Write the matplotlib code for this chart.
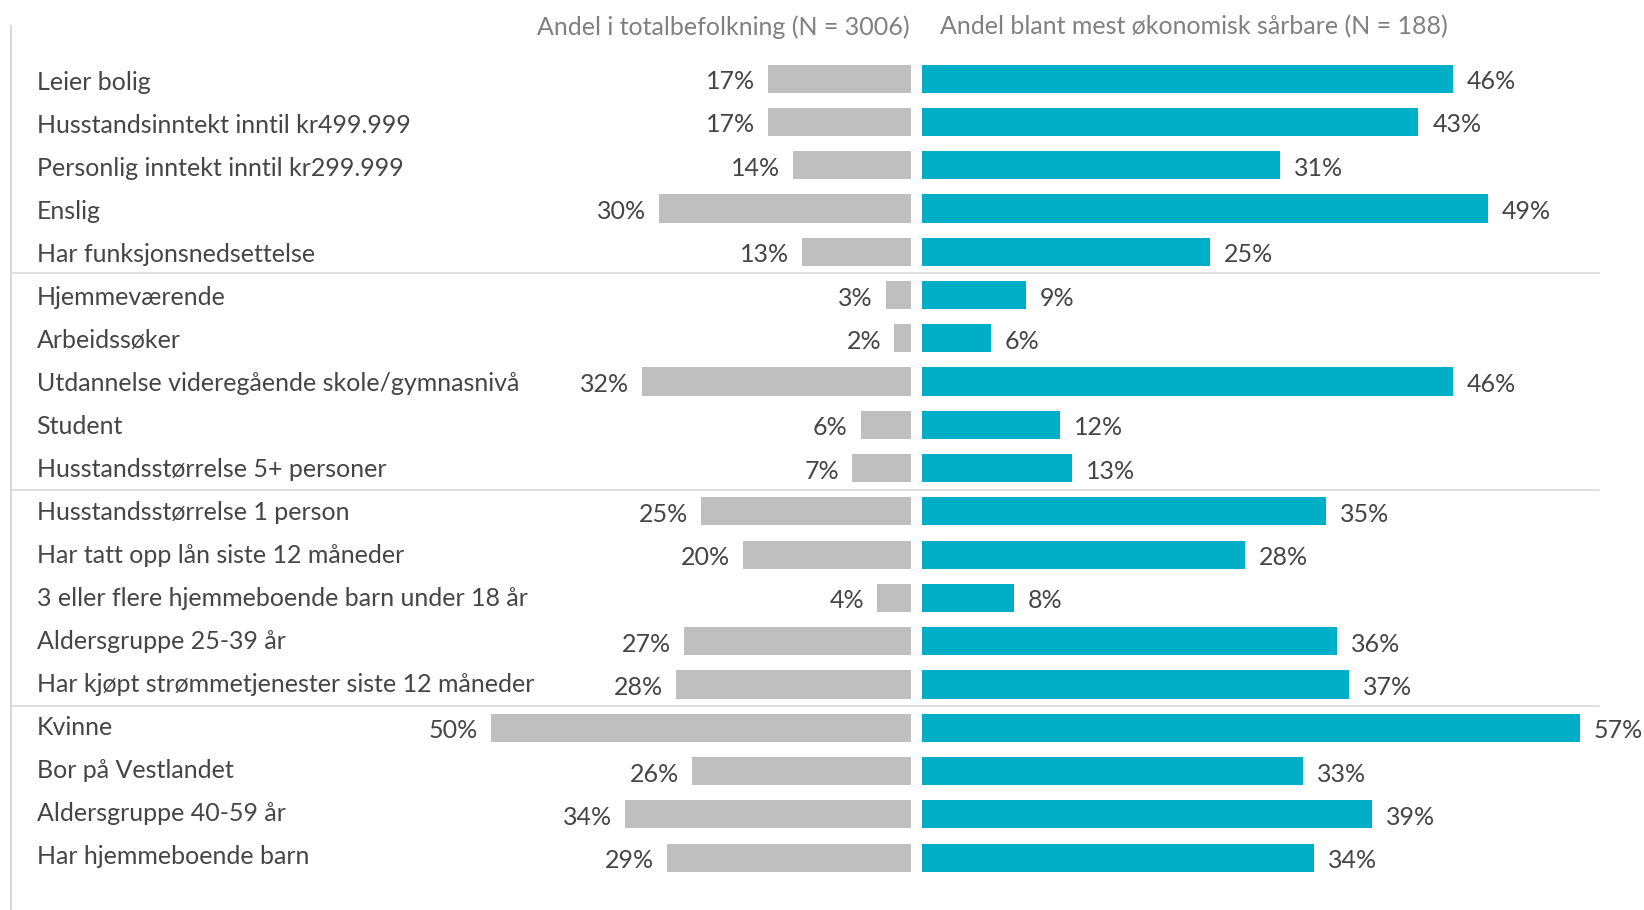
import numpy as np
import matplotlib.pyplot as plt
from matplotlib.lines import Line2D

plt.rcParams['font.family'] = ['Lato', 'DejaVu Sans']

# Données
categories = [
    "Leier bolig",
    "Husstandsinntekt inntil kr499.999",
    "Personlig inntekt inntil kr299.999",
    "Enslig",
    "Har funksjonsnedsettelse",
    "Hjemmeværende",
    "Arbeidssøker",
    "Utdannelse videregående skole/gymnasnivå",
    "Student",
    "Husstandsstørrelse 5+ personer",
    "Husstandsstørrelse 1 person",
    "Har tatt opp lån siste 12 måneder",
    "3 eller flere hjemmeboende barn under 18 år",
    "Aldersgruppe 25-39 år",
    "Har kjøpt strømmetjenester siste 12 måneder",
    "Kvinne",
    "Bor på Vestlandet",
    "Aldersgruppe 40-59 år",
    "Har hjemmeboende barn",
]
total = [17, 17, 14, 30, 13, 3, 2, 32, 6, 7, 25, 20, 4, 27, 28, 50, 26, 34, 29]
saarbare = [46, 43, 31, 49, 25, 9, 6, 46, 12, 13, 35, 28, 8, 36, 37, 57, 33, 39, 34]
header_left = "Andel i totalbefolkning (N = 3006)"
header_right = "Andel blant mest økonomisk sårbare (N = 188)"
group_breaks = [4.5, 9.5, 14.5]

GREY = '#bfbfbf'
TEAL = '#00aec7'
TXT = '#454545'
HDR = '#808080'
LINE = '#d9d9d9'

W, H = 1644, 910
fig = plt.figure(figsize=(W / 100, H / 100), dpi=100)

# géométrie en pixels
x_mid_left = 911.0
x_mid_right = 921.6
px_left = 8.41   # px par % (gauche)
px_right = 11.55  # px par % (droite)
y_top_row = 78.6
y_step = 43.28
n = len(categories)

ax_top = H - (y_top_row - 0.5 * y_step)
ax_bot = H - (y_top_row + (n - 0.5) * y_step)

left_max = 105
ax_l_x0 = x_mid_left - left_max * px_left
axL = fig.add_axes([ax_l_x0 / W, ax_bot / H, (x_mid_left - ax_l_x0) / W, (ax_top - ax_bot) / H])
right_max = 62
axR = fig.add_axes([x_mid_right / W, ax_bot / H, right_max * px_right / W, (ax_top - ax_bot) / H])

y = np.arange(n)
axL.barh(y, total, height=0.65, color=GREY)
axR.barh(y, saarbare, height=0.65, color=TEAL)

axL.set_xlim(left_max, 0)
axR.set_xlim(0, right_max)
for ax in (axL, axR):
    ax.set_ylim(n - 0.5, -0.5)
    ax.axis('off')

fs = 18
for i, v in enumerate(total):
    axL.annotate(f"{v}%", (v, i), xytext=(-13, -3), textcoords='offset pixels',
                 ha='right', va='center', fontsize=fs, color=TXT)
for i, v in enumerate(saarbare):
    axR.annotate(f"{v}%", (v, i), xytext=(14, -3), textcoords='offset pixels',
                 ha='left', va='center', fontsize=fs, color=TXT)

# libellés des catégories (pas légèrement plus serré que les barres)
lab_top = 80.7
lab_step = 42.98
for i, c in enumerate(categories):
    yl = H - (lab_top + i * lab_step) - 2
    fig.text(36.5 / W, yl / H, c, ha='left', va='center', fontsize=fs, color=TXT)

# en-têtes
fig.text(910 / W, 1 - 27 / H, header_left, ha='right', va='center', fontsize=fs, color=HDR)
fig.text(940 / W, 1 - 27 / H, header_right, ha='left', va='center', fontsize=fs, color=HDR)

# lignes de séparation
for b in group_breaks:
    yb = H - (y_top_row + b * y_step)
    fig.add_artist(Line2D([10.5 / W, 1599 / W], [yb / H, yb / H], color=LINE, lw=1.2))
fig.add_artist(Line2D([10.5 / W, 10.5 / W], [0, 1 - 26 / H], color=LINE, lw=1.5))

fig.savefig('out.png', dpi=100, facecolor='white')
